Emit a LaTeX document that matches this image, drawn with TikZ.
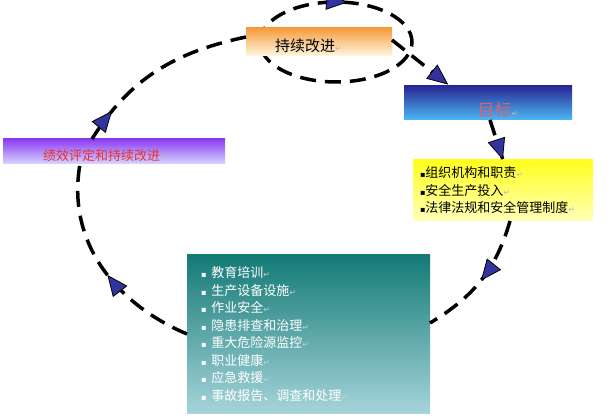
\documentclass[tikz,border=0pt]{standalone}
\usepackage{fontspec}
\newfontfamily\cjk{Noto Sans CJK SC}
\newfontfamily\dejavu{DejaVu Sans}
\usetikzlibrary{arrows.meta,decorations.markings,positioning,backgrounds}
\definecolor{arrowblue}{RGB}{51,51,160}
\definecolor{labelred}{RGB}{232,50,50}
\definecolor{goalred}{RGB}{210,100,118}
\definecolor{improvetop}{RGB}{245,155,60}
\definecolor{improvebot}{RGB}{255,248,225}
\definecolor{goaltop}{RGB}{40,40,150}
\definecolor{goalbot}{RGB}{75,185,245}
\definecolor{basistop}{RGB}{255,255,30}
\definecolor{basisbot}{RGB}{255,255,185}
\definecolor{reviewtop}{RGB}{140,60,240}
\definecolor{reviewbot}{RGB}{215,215,255}
\definecolor{taskstop}{RGB}{20,122,118}
\definecolor{tasksbot}{RGB}{165,212,218}
\newcommand\retmark[1][gray!55]{{\dejavu\fontsize{8}{8}\selectfont\textcolor{#1}{↵}}}
\newcommand\sqbullet{{\dejavu\fontsize{8}{8}\selectfont ▪}}
\begin{document}
\begin{tikzpicture}[x=1pt,y=1pt,font=\cjk,
	box/.style={inner sep=0pt,outer sep=0pt,draw=none},
	flow/.style={line width=3.5pt,dash pattern=on 16pt off 9pt,
		postaction={decorate,decoration={markings,
			mark=at position #1 with {\arrow{Triangle[length=21pt,width=18pt,fill=arrowblue,line width=0.8pt]}}}}}]
	\useasboundingbox (0,0) rectangle (612,417);
	%Các khung
	\node[box,minimum width=146pt,minimum height=28pt,inner xsep=29pt,text width=88pt,align=left,
		text height=20pt,text depth=0pt,top color=improvetop,bottom color=improvebot,
		font=\cjk\fontsize{15}{15}\selectfont] (improve) at (319,375) {持续改进\retmark};
	\node[box,minimum width=168pt,minimum height=34pt,text height=27pt,text depth=0pt,
		top color=goaltop,bottom color=goalbot,text=goalred,
		font=\cjk\fontsize{17}{17}\selectfont] (goal) at (488,314) {\hspace*{20pt}目标\retmark};
	\node[box,minimum width=180pt,minimum height=61pt,inner xsep=7pt,text width=166pt,align=left,
		top color=basistop,bottom color=basisbot,
		font=\cjk\fontsize{13}{17.5}\selectfont] (basis) at (503,226.5)
		{\sqbullet 组织机构和职责\retmark\\ \sqbullet 安全生产投入\retmark\\ \sqbullet 法律法规和安全管理制度\retmark};
	\node[box,minimum width=243pt,minimum height=158pt,inner xsep=14pt,text width=215pt,align=left,
		top color=taskstop,bottom color=tasksbot,text=white,
		font=\cjk\fontsize{13}{17.5}\selectfont] (tasks) at (308.5,83)
		{\sqbullet\hspace{5pt}教育培训\retmark[white!60!gray]\\
		\sqbullet\hspace{5pt}生产设备设施\retmark[white!60!gray]\\
		\sqbullet\hspace{5pt}作业安全\retmark[white!60!gray]\\
		\sqbullet\hspace{5pt}隐患排查和治理\retmark[white!60!gray]\\
		\sqbullet\hspace{5pt}重大危险源监控\retmark[white!60!gray]\\
		\sqbullet\hspace{5pt}职业健康\retmark[white!60!gray]\\
		\sqbullet\hspace{5pt}应急救援\retmark[white!60!gray]\\
		\sqbullet\hspace{5pt}事故报告、调查和处理\retmark[white!60!gray]};
	\node[box,minimum width=222pt,minimum height=25pt,inner xsep=40pt,text width=142pt,align=left,
		text height=19pt,text depth=0pt,top color=reviewtop,bottom color=reviewbot,text=labelred,
		font=\cjk\fontsize{13}{13}\selectfont] (review) at (114,265.5) {绩效评定和持续改进\retmark};
	%Các mũi tên
	\begin{scope}[on background layer]
		\draw[flow=0.28] ([xshift=-59pt]improve.center) arc[start angle=180,end angle=-180,x radius=76pt,y radius=40pt];
	\end{scope}
	\draw[flow=0.97] ([yshift=2pt]improve.east) -- ([xshift=46pt]goal.north west);
	\draw[flow=0.99] ([xshift=2pt]goal.south) -- (basis.north);
	\draw[flow=0.5] ([xshift=7pt]basis.south) to[out=254,in=31] ([yshift=11pt]tasks.east);
	\draw[flow=0.46] (tasks.west) to[out=157,in=260] ([xshift=-34pt]review.south);
	\draw[flow=0.18] ([xshift=-22pt]review.north) to[out=58,in=192] ([yshift=5pt]improve.west);
\end{tikzpicture}
\end{document}
